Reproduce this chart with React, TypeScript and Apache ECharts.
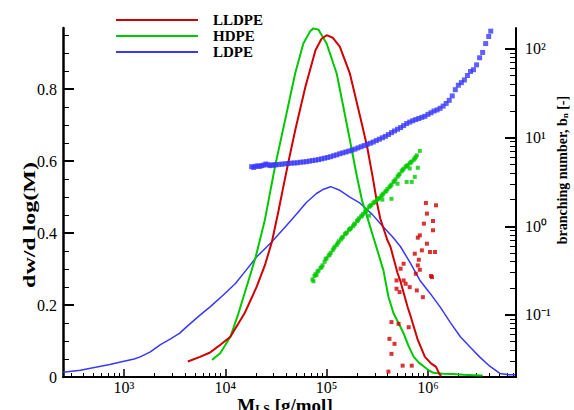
import React, { useEffect, useRef } from 'react';
import * as echarts from 'echarts';

const seriesNames = ['LLDPE', 'HDPE', 'LDPE'];

// log10(M) and dw/dlog(M) for each molecular weight distribution
const lldpeLogM = [3.63, 3.75, 3.85, 3.93, 4.05, 4.19, 4.31, 4.39, 4.46, 4.52, 4.57, 4.62, 4.69, 4.79, 4.89, 4.95, 5.0, 5.06, 5.13, 5.23, 5.33, 5.4, 5.46, 5.5, 5.53, 5.6, 5.63, 5.7, 5.73, 5.8, 5.82, 5.9, 5.97, 6.03, 6.08, 6.11, 6.13];
const lldpeW = [0.043, 0.056, 0.068, 0.085, 0.112, 0.177, 0.251, 0.31, 0.376, 0.455, 0.525, 0.594, 0.686, 0.806, 0.908, 0.94, 0.95, 0.943, 0.918, 0.843, 0.725, 0.64, 0.547, 0.48, 0.44, 0.38, 0.362, 0.289, 0.265, 0.194, 0.177, 0.103, 0.056, 0.038, 0.028, 0.01, 0.002];

const hdpeLogM = [3.87, 3.9, 3.95, 4.05, 4.13, 4.23, 4.3, 4.39, 4.49, 4.59, 4.69, 4.77, 4.84, 4.87, 4.92, 5.0, 5.1, 5.165, 5.23, 5.3, 5.35, 5.4, 5.49, 5.56, 5.61, 5.66, 5.71, 5.76, 5.81, 5.86, 5.91, 5.96, 6.0, 6.05, 6.15, 6.25, 6.35, 6.45, 6.54];
const hdpeW = [0.047, 0.055, 0.066, 0.112, 0.177, 0.269, 0.334, 0.436, 0.584, 0.714, 0.844, 0.927, 0.962, 0.969, 0.965, 0.927, 0.843, 0.751, 0.658, 0.556, 0.49, 0.445, 0.362, 0.297, 0.223, 0.177, 0.15, 0.121, 0.085, 0.056, 0.04, 0.029, 0.02, 0.012, 0.009, 0.008, 0.006, 0.005, 0.004];

const ldpeLogM = [2.4, 2.57, 2.72, 2.86, 3.0, 3.1, 3.16, 3.26, 3.36, 3.46, 3.55, 3.62, 3.75, 3.85, 3.98, 4.1, 4.2, 4.31, 4.46, 4.6, 4.71, 4.8, 4.9, 4.97, 5.04, 5.13, 5.23, 5.33, 5.45, 5.56, 5.65, 5.73, 5.83, 5.92, 6.02, 6.12, 6.22, 6.32, 6.42, 6.51, 6.61, 6.71, 6.8, 6.86];
const ldpeW = [0.013, 0.019, 0.027, 0.035, 0.044, 0.05, 0.056, 0.07, 0.09, 0.106, 0.122, 0.14, 0.172, 0.195, 0.228, 0.26, 0.295, 0.334, 0.376, 0.42, 0.455, 0.485, 0.51, 0.522, 0.529, 0.519, 0.5, 0.483, 0.452, 0.417, 0.39, 0.362, 0.315, 0.269, 0.233, 0.195, 0.152, 0.112, 0.082, 0.056, 0.03, 0.01, 0.006, 0.006];

// log10(M) and log10(branching number) scatter points
const ldpeBLogM = [4.26, 4.28, 4.3, 4.32, 4.34, 4.36, 4.38, 4.4, 4.42, 4.44, 4.46, 4.48, 4.5, 4.53, 4.56, 4.59, 4.62, 4.65, 4.68, 4.71, 4.74, 4.77, 4.8, 4.83, 4.86, 4.89, 4.92, 4.95, 4.98, 5.01, 5.04, 5.07, 5.1, 5.13, 5.16, 5.19, 5.22, 5.25, 5.28, 5.31, 5.34, 5.37, 5.4, 5.43, 5.46, 5.49, 5.52, 5.55, 5.58, 5.61, 5.64, 5.67, 5.7, 5.73, 5.76, 5.79, 5.82, 5.85, 5.88, 5.91, 5.94, 5.97, 6.0, 6.03, 6.06, 6.09, 6.12, 6.15, 6.18, 6.21, 6.24, 6.27, 6.3, 6.33, 6.36, 6.39, 6.42, 6.45, 6.48, 6.51, 6.54, 6.57, 6.6, 6.62, 6.63];
const ldpeBLogB = [0.672, 0.664, 0.676, 0.681, 0.676, 0.684, 0.69, 0.702, 0.695, 0.684, 0.69, 0.692, 0.693, 0.698, 0.7, 0.705, 0.708, 0.712, 0.714, 0.716, 0.722, 0.725, 0.729, 0.735, 0.741, 0.746, 0.752, 0.76, 0.768, 0.776, 0.785, 0.796, 0.806, 0.818, 0.828, 0.838, 0.848, 0.858, 0.87, 0.884, 0.897, 0.91, 0.924, 0.936, 0.95, 0.966, 0.982, 0.998, 1.014, 1.034, 1.056, 1.075, 1.094, 1.113, 1.135, 1.158, 1.175, 1.19, 1.203, 1.215, 1.228, 1.24, 1.262, 1.28, 1.3, 1.312, 1.33, 1.355, 1.385, 1.42, 1.47, 1.54, 1.59, 1.62, 1.65, 1.7, 1.745, 1.765, 1.82, 1.9, 1.96, 2.06, 2.14, 2.2, 2.25];

const hdpeBLogM = [4.86, 4.87, 4.88, 4.89, 4.9, 4.91, 4.92, 4.94, 4.95, 4.96, 4.98, 4.99, 5.0, 5.02, 5.03, 5.04, 5.06, 5.07, 5.08, 5.1, 5.11, 5.12, 5.14, 5.15, 5.16, 5.18, 5.19, 5.2, 5.22, 5.23, 5.24, 5.26, 5.27, 5.28, 5.3, 5.31, 5.32, 5.34, 5.35, 5.36, 5.38, 5.39, 5.4, 5.42, 5.43, 5.44, 5.46, 5.47, 5.48, 5.5, 5.51, 5.52, 5.54, 5.55, 5.56, 5.58, 5.59, 5.6, 5.62, 5.63, 5.64, 5.66, 5.67, 5.68, 5.7, 5.71, 5.72, 5.74, 5.75, 5.76, 5.78, 5.79, 5.8, 5.82, 5.83, 5.84, 5.86, 5.87, 5.88, 5.89, 5.42, 5.55, 5.64, 5.7, 5.79, 5.82, 5.87, 5.9, 5.92, 5.84];
const hdpeBLogB = [-0.6, -0.62, -0.56, -0.54, -0.55, -0.51, -0.5, -0.47, -0.46, -0.44, -0.4, -0.37, -0.36, -0.33, -0.32, -0.3, -0.27, -0.25, -0.23, -0.21, -0.19, -0.17, -0.15, -0.13, -0.12, -0.09, -0.08, -0.07, -0.04, -0.03, -0.02, 0.0, 0.02, 0.03, 0.06, 0.07, 0.09, 0.11, 0.12, 0.14, 0.16, 0.17, 0.19, 0.22, 0.23, 0.24, 0.26, 0.27, 0.28, 0.3, 0.31, 0.32, 0.34, 0.355, 0.37, 0.39, 0.4, 0.42, 0.44, 0.455, 0.47, 0.5, 0.51, 0.53, 0.56, 0.575, 0.59, 0.62, 0.635, 0.65, 0.67, 0.68, 0.69, 0.71, 0.72, 0.73, 0.75, 0.765, 0.78, 0.8, 0.12, 0.3, 0.31, 0.48, 0.5, 0.652, 0.557, 0.66, 0.85, 0.5];

const lldpeBLogM = [5.98, 6.08, 5.99, 5.96, 6.05, 6.05, 5.92, 5.9, 5.99, 5.94, 6.02, 6.07, 5.87, 5.91, 5.76, 5.73, 5.9, 5.92, 5.88, 6.04, 6.03, 5.76, 5.69, 5.78, 5.69, 5.72, 5.82, 5.89, 5.95, 5.64, 5.71, 5.81, 5.62, 5.67, 5.64, 5.84, 5.61, 5.75];
const lldpeBLogB = [0.263, 0.237, 0.143, 0.03, 0.06, -0.045, -0.102, -0.128, -0.196, -0.271, -0.29, -0.29, -0.309, -0.377, -0.422, -0.478, -0.441, -0.49, -0.535, -0.573, -0.56, -0.61, -0.61, -0.648, -0.704, -0.742, -0.686, -0.723, -0.799, -1.08, -1.1, -1.138, -1.269, -1.325, -1.438, -1.571, -1.638, -1.571];

const xMajorTicks = [1e3, 1e4, 1e5, 1e6];
const leftTicks = [0, 0.2, 0.4, 0.6, 0.8];
const rightTicks = [0.1, 1, 10, 100];

const RED = '#d10000';
const GREEN = '#00c800';
const BLUE = '#3838ff';
const FONT = '"Liberation Serif", "Times New Roman", serif';

const supMap: Record<string, string> = { '0': '⁰', '1': '¹', '2': '²', '3': '³', '4': '⁴', '5': '⁵', '6': '⁶', '7': '⁷', '8': '⁸', '9': '⁹', '-': '⁻' };
const pow10Label = (v: number) => {
  const e = Math.round(Math.log10(v));
  return '10' + String(e).split('').map((c) => supMap[c] || c).join('');
};

const pairs = (xs: number[], ys: number[]) => xs.map((x, i) => [Math.pow(10, x), ys[i]]);
const logPairs = (xs: number[], ys: number[]) => xs.map((x, i) => [Math.pow(10, x), Math.pow(10, ys[i])]);

export default function App() {
  const ref = useRef<HTMLDivElement>(null);
  useEffect(() => {
    document.body.style.margin = '0';
    const chart = echarts.init(ref.current!, null, { renderer: 'svg' });
    const axisLine = (w: number) => ({ show: true, onZero: false, lineStyle: { color: '#000', width: w } });
    const labelStyle = { fontFamily: FONT, fontSize: 16, color: '#000' };
    chart.setOption({
      animation: false,
      grid: { left: 63, right: 58, top: 28, bottom: 33, containLabel: false, outerBoundsMode: 'none' },
      legend: {
        data: seriesNames,
        orient: 'vertical',
        left: 111,
        top: 7,
        itemWidth: 82,
        itemHeight: 2,
        itemGap: 0,
        icon: 'rect',
        selectedMode: false,
        textStyle: { fontFamily: FONT, fontWeight: 'bold', fontSize: 15, color: '#000', lineHeight: 16, padding: [0, 0, 0, 10] },
      },
      xAxis: [
        {
          type: 'log',
          logBase: 10,
          min: 250,
          max: 7.4e6,
          position: 'bottom',
          axisLine: axisLine(2),
          axisTick: { show: true, inside: true, length: 8, customValues: xMajorTicks, lineStyle: { color: '#000', width: 1.5 } },
          minorTick: { show: true, splitNumber: 9, length: 4, lineStyle: { color: '#000', width: 1 } },
          axisLabel: { customValues: xMajorTicks, formatter: pow10Label, margin: 2, ...labelStyle },
          splitLine: { show: false },
          minorSplitLine: { show: false },
        },
      ],
      yAxis: [
        {
          type: 'value',
          min: 0,
          max: 0.97,
          interval: 0.2,
          position: 'left',
          axisLine: axisLine(2.5),
          axisTick: { show: true, inside: true, length: 11, customValues: leftTicks, lineStyle: { color: '#000', width: 2 } },
          minorTick: { show: true, splitNumber: 4, length: 6, lineStyle: { color: '#000', width: 1 } },
          axisLabel: { customValues: leftTicks, formatter: (v: number) => (v === 0 ? '0' : v.toFixed(1)), margin: 6, ...labelStyle },
          splitLine: { show: false },
        },
        {
          type: 'log',
          logBase: 10,
          min: 0.02,
          max: 172,
          position: 'right',
          axisLine: axisLine(2),
          axisTick: { show: true, inside: true, length: 11, customValues: rightTicks, lineStyle: { color: '#000', width: 2 } },
          minorTick: { show: true, splitNumber: 9, length: 6, lineStyle: { color: '#000', width: 1 } },
          axisLabel: { customValues: rightTicks, formatter: pow10Label, margin: 9, ...labelStyle },
          splitLine: { show: false },
          minorSplitLine: { show: false },
        },
      ],
      graphic: [
        {
          type: 'text',
          x: 30,
          y: 225,
          rotation: Math.PI / 2,
          scaleX: 1.5,
          style: { text: 'dw/d log(M)', font: `bold 16px ${FONT}`, fill: '#000', align: 'center', verticalAlign: 'middle' },
        },
        {
          type: 'text',
          x: 562,
          y: 170,
          rotation: Math.PI / 2,
          style: {
            text: 'branching number, b{s|n} [-]',
            font: `bold 14px ${FONT}`,
            fill: '#000',
            align: 'center',
            verticalAlign: 'middle',
            rich: { s: { fontFamily: FONT, fontWeight: 'bold', fontSize: 9, verticalAlign: 'bottom', fill: '#000' } },
          },
        },
        {
          type: 'text',
          x: 285,
          y: 405,
          style: {
            text: 'M{s|LS} [g/mol]',
            font: `bold 19px ${FONT}`,
            fill: '#000',
            align: 'center',
            verticalAlign: 'middle',
            rich: { s: { fontFamily: FONT, fontWeight: 'bold', fontSize: 12, verticalAlign: 'bottom', fill: '#000' } },
          },
        },
      ],
      series: [
        {
          name: 'LDPE',
          type: 'line',
          yAxisIndex: 0,
          data: pairs(ldpeLogM, ldpeW),
          showSymbol: false,
          symbol: 'none',
          color: BLUE,
          lineStyle: { color: BLUE, width: 1.5 },
          z: 2,
        },
        {
          name: 'HDPE',
          type: 'line',
          yAxisIndex: 0,
          data: pairs(hdpeLogM, hdpeW),
          showSymbol: false,
          symbol: 'none',
          color: GREEN,
          lineStyle: { color: GREEN, width: 2 },
          z: 3,
        },
        {
          name: 'LLDPE',
          type: 'line',
          yAxisIndex: 0,
          data: pairs(lldpeLogM, lldpeW),
          showSymbol: false,
          symbol: 'none',
          color: RED,
          lineStyle: { color: RED, width: 2 },
          z: 4,
        },
        {
          name: 'LDPE branching',
          type: 'scatter',
          yAxisIndex: 1,
          data: logPairs(ldpeBLogM, ldpeBLogB),
          symbol: 'rect',
          symbolSize: 5,
          itemStyle: { color: BLUE },
          z: 5,
        },
        {
          name: 'HDPE branching',
          type: 'scatter',
          yAxisIndex: 1,
          data: logPairs(hdpeBLogM, hdpeBLogB),
          symbol: 'rect',
          symbolSize: 4,
          itemStyle: { color: GREEN },
          z: 5,
        },
        {
          name: 'LLDPE branching',
          type: 'scatter',
          yAxisIndex: 1,
          data: logPairs(lldpeBLogM, lldpeBLogB),
          symbol: 'rect',
          symbolSize: 4,
          itemStyle: { color: RED },
          z: 5,
        },
      ],
    });
    return () => chart.dispose();
  }, []);
  return <div ref={ref} style={{ width: 574, height: 410 }} />;
}
